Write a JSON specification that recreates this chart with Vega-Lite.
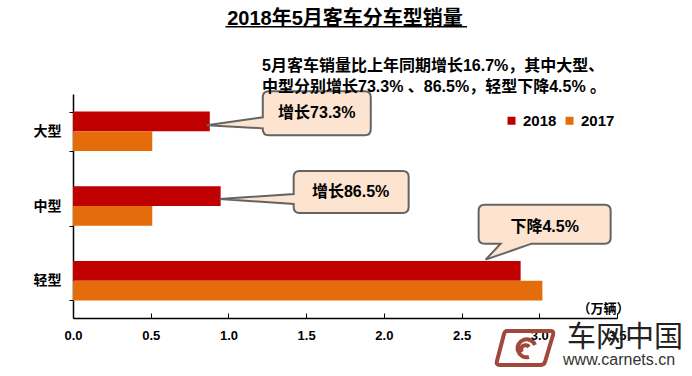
{
  "$schema": "https://vega.github.io/schema/vega-lite/v6.json",
  "width": 544,
  "height": 224,
  "autosize": {"type": "none"},
  "padding": {"left": 73, "top": 94, "right": 75, "bottom": 58},
  "background": "white",
  "title": {"text": "2018年5月客车分车型销量", "fontSize": 20, "fontWeight": "bold", "anchor": "middle", "frame": "group", "color": "#000000", "offset": -3},
  "data": {"values": [
    {"cat": "大型", "year": "2018", "value": 0.88},
    {"cat": "大型", "year": "2017", "value": 0.51},
    {"cat": "中型", "year": "2018", "value": 0.95},
    {"cat": "中型", "year": "2017", "value": 0.51},
    {"cat": "轻型", "year": "2018", "value": 2.88},
    {"cat": "轻型", "year": "2017", "value": 3.02}
  ]},
  "layer": [
    {
      "mark": {"type": "bar"},
      "encoding": {
        "y": {"field": "cat", "type": "nominal", "sort": null,
          "scale": {"domain": ["大型", "中型", "轻型"], "paddingInner": 0.47, "paddingOuter": 0.235},
          "axis": {"title": null, "tickBand": "extent", "tickSize": 4, "labelPadding": 8, "labelFontSize": 14, "labelFontWeight": "bold", "domainWidth": 1.5}},
        "yOffset": {"field": "year", "type": "nominal", "sort": null, "scale": {"domain": ["2018", "2017"]}},
        "x": {"field": "value", "type": "quantitative", "scale": {"domain": [0, 3.5], "nice": false},
          "axis": {"values": [0, 0.5, 1, 1.5, 2, 2.5, 3, 3.5], "format": ".1f", "tickSize": -5, "labelPadding": 16, "labelFontSize": 13, "labelFontWeight": "bold", "labelFlush": false,
            "title": "（万辆）", "titleX": 556, "titleY": -10, "titleAlign": "right", "titleBaseline": "middle", "titleFontSize": 13, "titleFontWeight": "bold", "domainWidth": 1.5}},
        "color": {"field": "year", "type": "nominal",
          "scale": {"domain": ["2018", "2017"], "range": ["#C00000", "#E46C0A"]},
          "legend": {"title": null, "orient": "none", "legendX": 431, "legendY": 19, "direction": "horizontal", "symbolType": "square", "symbolSize": 64, "symbolStrokeWidth": 0, "labelFontSize": 15, "labelFontWeight": "bold", "labelColor": "#000000", "columnPadding": 5, "labelOffset": 4, "padding": 0}}
      }
    },
    {
      "transform": [{"filter": "datum.year === '2018' && datum.cat === '大型'"}],
      "mark": {"type": "point", "shape": "M 59 -40 L 155 -40 Q 161 -40 161 -34 L 161 -2 Q 161 4 155 4 L 59 4 Q 53 4 53 -2 L 53 -3 L -3 -6 L 53 -14 L 53 -34 Q 53 -40 59 -40 Z", "size": 4, "filled": true, "fill": "#FCE4D0", "stroke": "#646464", "strokeWidth": 2, "opacity": 1},
      "encoding": {"x": {"field": "value", "type": "quantitative"}, "y": {"field": "cat", "type": "nominal"}}
    },
    {
      "transform": [{"filter": "datum.year === '2018' && datum.cat === '中型'"}],
      "mark": {"type": "point", "shape": "M 79 -35 L 182 -35 Q 188 -35 188 -29 L 188 1 Q 188 7 182 7 L 79 7 Q 73 7 73 1 L 73 -2 L -1 -7 L 73 -12 L 73 -29 Q 73 -35 79 -35 Z", "size": 4, "filled": true, "fill": "#FCE4D0", "stroke": "#646464", "strokeWidth": 2, "opacity": 1},
      "encoding": {"x": {"field": "value", "type": "quantitative"}, "y": {"field": "cat", "type": "nominal"}}
    },
    {
      "transform": [{"filter": "datum.year === '2018' && datum.cat === '轻型'"}],
      "mark": {"type": "point", "shape": "M -36 -76 L 84 -76 Q 90 -76 90 -70 L 90 -43 Q 90 -37 84 -37 L 11 -37 L -35 -21 L -20 -37 L -36 -37 Q -42 -37 -42 -43 L -42 -70 Q -42 -76 -36 -76 Z", "size": 4, "filled": true, "fill": "#FCE4D0", "stroke": "#646464", "strokeWidth": 2, "opacity": 1},
      "encoding": {"x": {"field": "value", "type": "quantitative"}, "y": {"field": "cat", "type": "nominal"}}
    },
    {
      "transform": [{"filter": "datum.year === '2018' && datum.cat === '大型'"}],
      "mark": {"type": "text", "dx": 107, "dy": -18, "fontSize": 16, "fontWeight": "bold", "align": "center", "baseline": "middle", "color": "#000000"},
      "encoding": {"x": {"field": "value", "type": "quantitative"}, "y": {"field": "cat", "type": "nominal"}, "text": {"value": "增长73.3%"}}
    },
    {
      "transform": [{"filter": "datum.year === '2018' && datum.cat === '中型'"}],
      "mark": {"type": "text", "dx": 130, "dy": -14, "fontSize": 16, "fontWeight": "bold", "align": "center", "baseline": "middle", "color": "#000000"},
      "encoding": {"x": {"field": "value", "type": "quantitative"}, "y": {"field": "cat", "type": "nominal"}, "text": {"value": "增长86.5%"}}
    },
    {
      "transform": [{"filter": "datum.year === '2018' && datum.cat === '轻型'"}],
      "mark": {"type": "text", "dx": 24, "dy": -54, "fontSize": 16, "fontWeight": "bold", "align": "center", "baseline": "middle", "color": "#000000"},
      "encoding": {"x": {"field": "value", "type": "quantitative"}, "y": {"field": "cat", "type": "nominal"}, "text": {"value": "下降4.5%"}}
    },
    {
      "transform": [{"filter": "datum.year === '2018' && datum.cat === '大型'"}],
      "mark": {"type": "text", "dy": -65.3, "fontSize": 16, "fontWeight": "bold", "align": "left", "baseline": "middle", "lineHeight": 21, "color": "#000000"},
      "encoding": {"x": {"datum": 1.216, "type": "quantitative"}, "y": {"field": "cat", "type": "nominal"},
        "text": {"value": ["5月客车销量比上年同期增长16.7%，其中大型、", "中型分别增长73.3% 、86.5%，轻型下降4.5% 。"]}}
    },
    {
      "transform": [{"filter": "datum.year === '2018' && datum.cat === '大型'"}],
      "mark": {"type": "rule", "yOffset": -104.6, "strokeWidth": 1.5, "color": "#000000"},
      "encoding": {"x": {"datum": 0.981, "type": "quantitative"}, "x2": {"datum": 2.535}, "y": {"field": "cat", "type": "nominal"}}
    },
    {
      "transform": [{"filter": "datum.year === '2018' && datum.cat === '轻型'"}],
      "mark": {"type": "point", "shape": "M -18 -18 L 26 -18 Q 29 -18 28 -14 L 20 13 Q 19 16 16 16 L -26 16 Q -29 16 -28 12 L -21 -15 Q -20 -18 -18 -18 Z M 10 -4 A 9 9 0 1 0 4 8 M 4 -2 A 4 4 0 1 0 -3 3", "size": 4, "filled": false, "stroke": "#A0483A", "strokeWidth": 4, "opacity": 1, "yOffset": 68.3},
      "encoding": {"x": {"datum": 2.908, "type": "quantitative"}, "y": {"field": "cat", "type": "nominal"}}
    },
    {
      "transform": [{"filter": "datum.year === '2018' && datum.cat === '轻型'"}],
      "mark": {"type": "text", "dy": 57.3, "fontSize": 29, "align": "left", "baseline": "middle", "color": "#222222"},
      "encoding": {"x": {"datum": 3.178, "type": "quantitative"}, "y": {"field": "cat", "type": "nominal"}, "text": {"value": "车网中国"}}
    },
    {
      "transform": [{"filter": "datum.year === '2018' && datum.cat === '轻型'"}],
      "mark": {"type": "text", "dy": 79.3, "fontSize": 16, "align": "left", "baseline": "middle", "color": "#333333"},
      "encoding": {"x": {"datum": 3.153, "type": "quantitative"}, "y": {"field": "cat", "type": "nominal"}, "text": {"value": "www.carnets.cn"}}
    }
  ],
  "config": {
    "view": {"stroke": null},
    "font": "Liberation Sans, Noto Sans CJK SC, sans-serif",
    "axis": {"domainColor": "#000000", "tickColor": "#000000", "labelColor": "#000000", "titleColor": "#000000", "grid": false},
    "text": {"font": "Liberation Sans, Noto Sans CJK SC, sans-serif"}
  }
}
